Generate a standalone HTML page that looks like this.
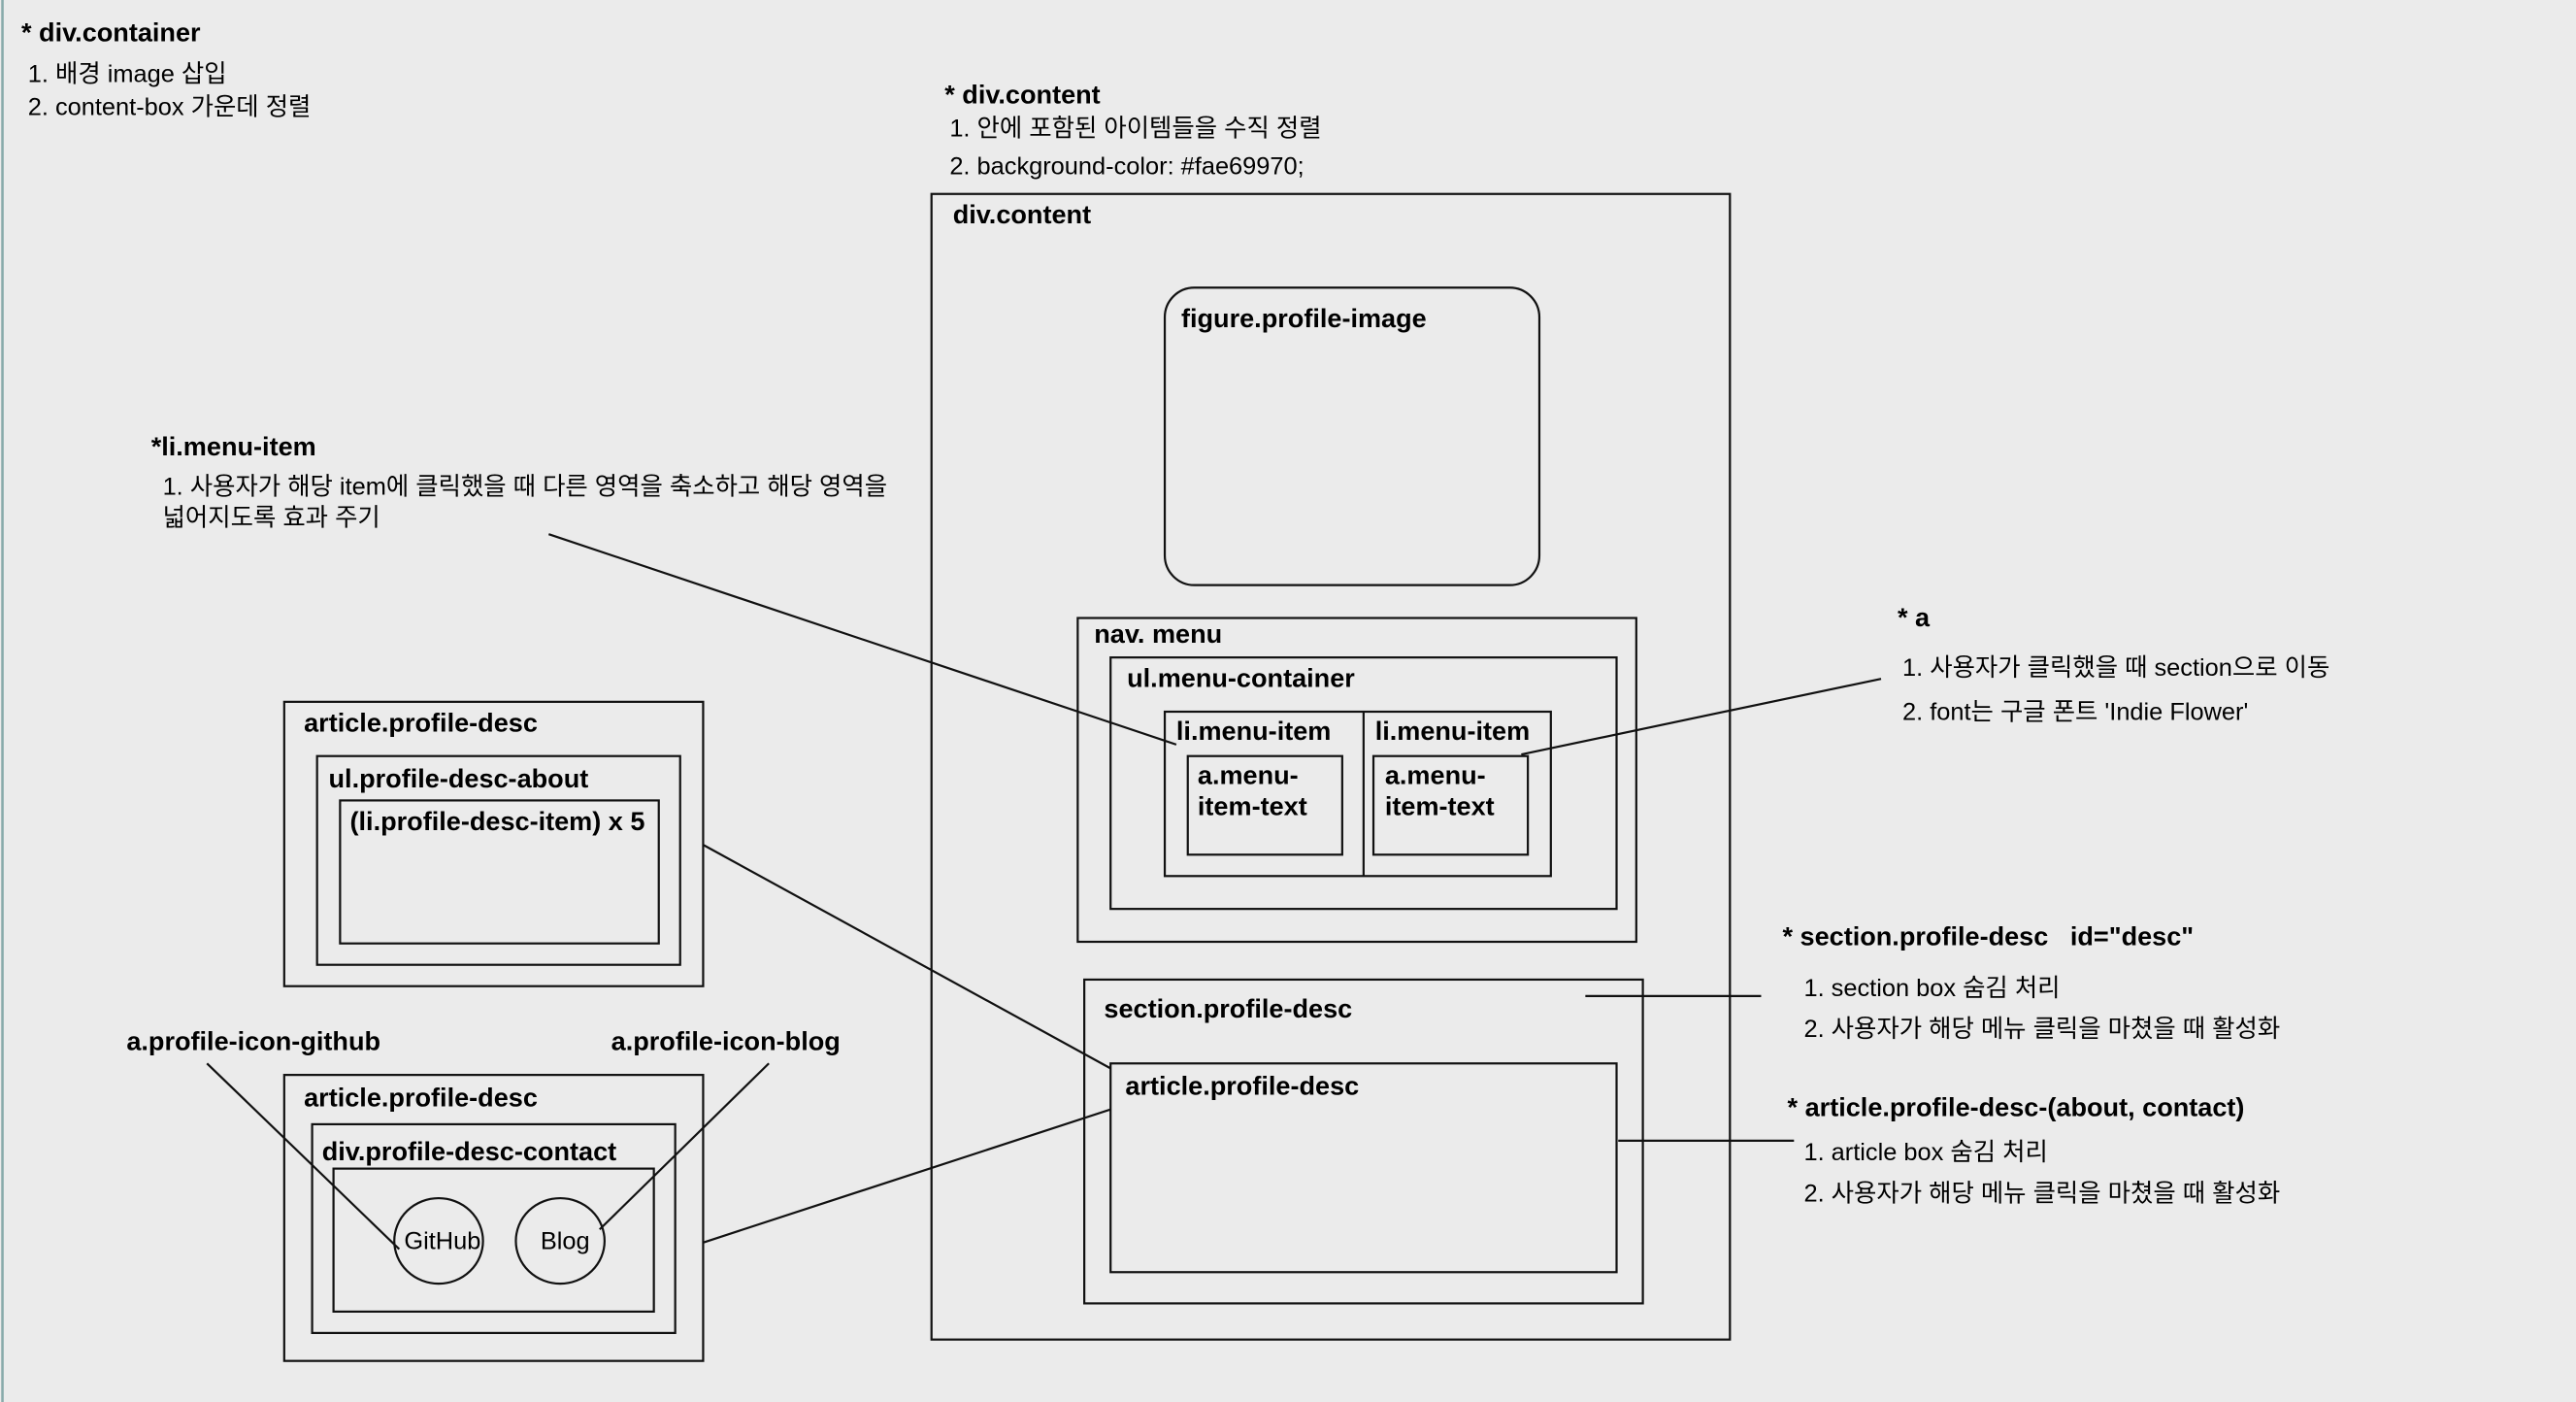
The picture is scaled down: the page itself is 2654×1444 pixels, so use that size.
<!DOCTYPE html>
<html><head><meta charset="utf-8"><style>
html,body{margin:0;padding:0;background:#ebebeb;}
svg{display:block;}
text{font-family:"Liberation Sans","Noto Sans CJK KR","NanumGothic",sans-serif;fill:#000;}
.b{font-weight:bold;font-size:16px;}
.n{font-size:15px;}
</style></head><body>
<svg width="2654" height="1444" viewBox="0 0 1568 853" preserveAspectRatio="none" xmlns="http://www.w3.org/2000/svg">
<rect x="0" y="0" width="1568" height="853" fill="#ebebeb"/>
<line x1="1.5" y1="0" x2="1.5" y2="853" stroke="#8aa" stroke-width="1.5"/>
<g fill="none" stroke="#111" stroke-width="1.3">
<rect x="567" y="118" width="486" height="697"/>
<rect x="709" y="175" width="228" height="181" rx="18"/>
<rect x="656" y="376" width="340" height="197"/>
<rect x="676" y="400" width="308" height="153"/>
<rect x="709" y="433" width="235" height="100"/>
<line x1="830" y1="433" x2="830" y2="533"/>
<rect x="723" y="460" width="94" height="60"/>
<rect x="836" y="460" width="94" height="60"/>
<rect x="660" y="596" width="340" height="197"/>
<rect x="676" y="647" width="308" height="127"/>
<rect x="173" y="427" width="255" height="173"/>
<rect x="193" y="460" width="221" height="127"/>
<rect x="207" y="487" width="194" height="87"/>
<rect x="173" y="654" width="255" height="174"/>
<rect x="190" y="684" width="221" height="127"/>
<rect x="203" y="711" width="195" height="87"/>
<ellipse cx="267" cy="755" rx="27" ry="26"/>
<ellipse cx="341" cy="755" rx="27" ry="26"/>
<line x1="334" y1="325" x2="716" y2="453"/>
<line x1="1145" y1="413" x2="926" y2="459"/>
<line x1="965" y1="606" x2="1072" y2="606"/>
<line x1="985" y1="694" x2="1092" y2="694"/>
<line x1="428" y1="514" x2="676" y2="650"/>
<line x1="428" y1="756" x2="676" y2="675"/>
<line x1="126" y1="647" x2="243" y2="760"/>
<line x1="468" y1="647" x2="365" y2="748"/>
</g>
<text class="b" x="13" y="25">* div.container</text>
<text class="n" x="17" y="50">1. 배경 image 삽입</text>
<text class="n" x="17" y="70">2. content-box 가운데 정렬</text>
<text class="b" x="575" y="63">* div.content</text>
<text class="n" x="578" y="83">1. 안에 포함된 아이템들을 수직 정렬</text>
<text class="n" x="578" y="106">2. background-color: #fae69970;</text>
<text class="b" x="580" y="136">div.content</text>
<text class="b" x="719" y="199">figure.profile-image</text>
<text class="b" x="666" y="391">nav. menu</text>
<text class="b" x="686" y="418">ul.menu-container</text>
<text class="b" x="716" y="450">li.menu-item</text>
<text class="b" x="837" y="450">li.menu-item</text>
<text class="b" x="729" y="477">a.menu-</text>
<text class="b" x="729" y="496">item-text</text>
<text class="b" x="843" y="477">a.menu-</text>
<text class="b" x="843" y="496">item-text</text>
<text class="b" x="672" y="619">section.profile-desc</text>
<text class="b" x="685" y="666">article.profile-desc</text>
<text class="b" x="92" y="277">*li.menu-item</text>
<text class="n" x="99" y="301">1. 사용자가 해당 item에 클릭했을 때 다른 영역을 축소하고 해당 영역을</text>
<text class="n" x="99" y="320">넓어지도록 효과 주기</text>
<text class="b" x="1155" y="381">* a</text>
<text class="n" x="1158" y="411">1. 사용자가 클릭했을 때 section으로 이동</text>
<text class="n" x="1158" y="438">2. font는 구글 폰트 'Indie Flower'</text>
<text class="b" x="1085" y="575">* section.profile-desc&#160;&#160;&#160;id="desc"</text>
<text class="n" x="1098" y="606">1. section box 숨김 처리</text>
<text class="n" x="1098" y="631">2. 사용자가 해당 메뉴 클릭을 마쳤을 때 활성화</text>
<text class="b" x="1088" y="679">* article.profile-desc-(about, contact)</text>
<text class="n" x="1098" y="706">1. article box 숨김 처리</text>
<text class="n" x="1098" y="731">2. 사용자가 해당 메뉴 클릭을 마쳤을 때 활성화</text>
<text class="b" x="185" y="445">article.profile-desc</text>
<text class="b" x="200" y="479">ul.profile-desc-about</text>
<text class="b" x="213" y="505">(li.profile-desc-item) x 5</text>
<text class="b" x="77" y="639">a.profile-icon-github</text>
<text class="b" x="372" y="639">a.profile-icon-blog</text>
<text class="b" x="185" y="673">article.profile-desc</text>
<text class="b" x="196" y="706">div.profile-desc-contact</text>
<text class="n" x="246" y="760">GitHub</text>
<text class="n" x="329" y="760">Blog</text>
</svg>
</body></html>
